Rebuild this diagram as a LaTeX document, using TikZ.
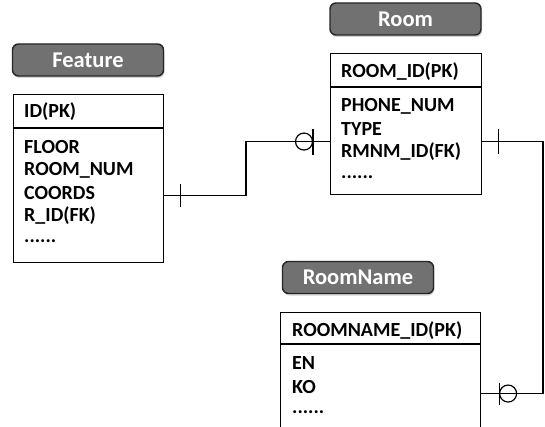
\documentclass[tikz,border=0pt]{standalone}
\usepackage{fontspec}
\setmainfont{Carlito}
\usetikzlibrary{shadows}
\definecolor{lblfill}{HTML}{717171}
\definecolor{lbldraw}{HTML}{262626}
\tikzset{
  tbl/.style={draw=black, line width=1.1pt, anchor=north west, inner sep=0pt},
  fld/.style={anchor=west, inner sep=0pt, font=\fontsize{20}{22}\selectfont\bfseries},
  lbl/.style={draw=lbldraw, line width=1.4pt, fill=lblfill, rounded corners=6pt,
    text=white, inner sep=0pt, font=\fontsize{22.5}{24}\selectfont\bfseries,
    drop shadow={opacity=0.35, shadow xshift=1pt, shadow yshift=-2pt}},
  conn/.style={draw=black, line width=1.2pt},
  bar/.style={draw=black, line width=1.2pt},
}
\begin{document}
\begin{tikzpicture}[x=1pt,y=-1pt]
\clip (0,0) rectangle (545,427);
\fill[white] (0,0) rectangle (545,427);

% labels
\node[lbl, minimum width=151pt, minimum height=32pt] (fl) at (88,60) {Feature};
\node[lbl, minimum width=151pt, minimum height=32pt] (rl) at (405.5,19) {Room};
\node[lbl, minimum width=151pt, minimum height=32pt] (nl) at (358,277.5) {RoomName};

% tables
\node[tbl, minimum width=150pt, minimum height=168pt] (ft) at (13,94) {};
\node[tbl, minimum width=151pt, minimum height=141pt] (rt) at (330,53) {};
\node[tbl, minimum width=200pt, minimum height=130pt] (nt) at (280,312) {};

\draw[line width=1.1pt] ([yshift=-34pt]ft.north west) -- ([yshift=-34pt]ft.north east);
\draw[line width=1.1pt] ([yshift=-34pt]rt.north west) -- ([yshift=-34pt]rt.north east);
\draw[line width=1.1pt] ([yshift=-32pt]nt.north west) -- ([yshift=-32pt]nt.north east);

% Feature fields
\node[fld] (f0) at (24,112) {ID(PK)};
\node[fld] (f1) at (24,147) {FLOOR};
\node[fld] (f2) at (24,170) {ROOM\_NUM};
\node[fld] (f3) at (24,193) {COORDS};
\node[fld] (f4) at (24,216) {R\_ID(FK)};
\node[fld] (f5) at (24,241) {......};

% Room fields
\node[fld] (r0) at (341,72) {ROOM\_ID(PK)};
\node[fld] (r1) at (341,106) {PHONE\_NUM};
\node[fld] (r2) at (341,129) {TYPE};
\node[fld] (r3) at (341,152) {RMNM\_ID(FK)};
\node[fld] (r4) at (341,177) {......};

% RoomName fields
\node[fld] (n0) at (292,331) {ROOMNAME\_ID(PK)};
\node[fld] (n1) at (292,363) {EN};
\node[fld] (n2) at (292,387) {KO};
\node[fld] (n3) at (292,412) {......};

% connector Feature -- Room
\coordinate (a1) at ([yshift=-17pt]ft.east);
\coordinate (a2) at ([yshift=-17.5pt]rt.west);
\coordinate (ak) at (246,0);
\draw[conn] (a1) -- (a1 -| ak) -- (a2 -| ak) -- (a2);
\draw[bar] ([xshift=16pt,yshift=11.5pt]a1) -- ([xshift=16pt,yshift=-11.5pt]a1);
\draw[bar] ([xshift=-17pt,yshift=13pt]a2) -- ([xshift=-17pt,yshift=-13pt]a2);
\draw[conn] ([xshift=-26pt]a2) circle (8.5pt);

% connector Room -- RoomName
\coordinate (b1) at ([yshift=-17.5pt]rt.east);
\coordinate (b2) at ([yshift=-16pt]nt.east);
\coordinate (bk) at (543,0);
\draw[conn] (b1) -- (b1 -| bk) -- (b2 -| bk) -- (b2);
\draw[bar] ([xshift=16pt,yshift=12.5pt]b1) -- ([xshift=16pt,yshift=-12.5pt]b1);
\draw[bar] ([xshift=18pt,yshift=11pt]b2) -- ([xshift=18pt,yshift=-11pt]b2);
\draw[conn] ([xshift=27pt]b2) circle (8.5pt);
\end{tikzpicture}
\end{document}
